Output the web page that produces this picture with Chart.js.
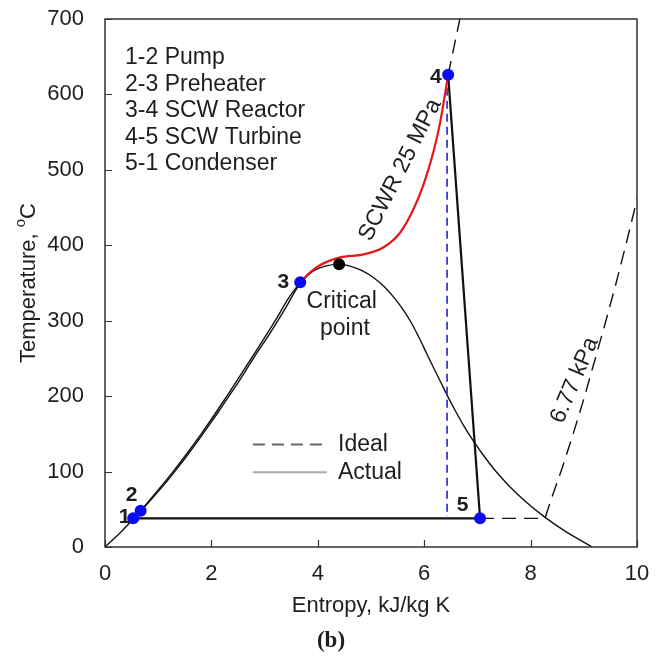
<!DOCTYPE html>
<html>
<head>
<meta charset="utf-8">
<script src="https://cdn.jsdelivr.net/npm/chart.js@4.4.1/dist/chart.umd.min.js"></script>
<style>
  html, body { margin: 0; padding: 0; background: #fff; }
  #wrap { width: 662px; height: 656px; }
</style>
</head>
<body>
<div id="wrap"><canvas id="ts-chart" width="662" height="656"></canvas></div>
<script>
// saturation dome (liquid side then vapour side), entropy kJ/kg K vs temperature C
const domeS = [0, 0.30, 0.57, 0.83, 1.08, 1.31, 1.53, 1.74, 1.94, 2.14, 2.33, 2.52, 2.70, 2.88, 3.07, 3.25,
  3.42, 3.58, 3.70, 3.84, 4.00, 4.18, 4.40, 4.62, 4.84, 5.05, 5.25, 5.43, 5.60, 5.76, 5.90, 6.03, 6.16,
  6.30, 6.44, 6.59, 6.75, 6.93, 7.13, 7.35, 7.61, 7.91, 8.26, 8.67, 9.16];
const domeT = [0, 20, 40, 60, 80, 100, 120, 140, 160, 180, 200, 220, 240, 260, 280, 300,
  320, 340, 352, 362, 369, 373, 375, 372, 366, 357, 345, 331, 315, 297, 278, 259, 240,
  220, 200, 180, 160, 140, 120, 100, 80, 60, 40, 20, 0];

// 2-3 preheater
const preheatS = [0.67, 1.28, 1.81, 2.29, 2.75, 3.20, 3.45, 3.67];
const preheatT = [48, 100, 150, 200, 250, 300, 330, 351];

// 3-4 SCW reactor, 25 MPa
const reactorS = [3.67, 3.82, 3.98, 4.20, 4.42, 4.86, 5.23, 5.55, 5.80, 5.98, 6.17, 6.30, 6.45];
const reactorT = [351, 362, 371, 379, 384, 388, 397, 417, 448, 479, 523, 563, 626];

// 25 MPa isobar beyond point 4
const hpExtS = [6.45, 6.67];
const hpExtT = [626, 700];

// 4-5 turbine, actual and ideal
const turbineS = [6.45, 7.05];
const turbineT = [626, 38];
const idealTurbS = [6.43, 6.43];
const idealTurbT = [626, 38];

// 5-1 condenser
const condS = [0.53, 7.05];
const condT = [38, 38];

// 6.77 kPa isobar (dashed)
const lowPS = [7.05, 8.27, 8.40, 8.60, 8.80, 9.00, 9.20, 9.40, 9.60, 9.80, 10.0];
const lowPT = [38, 38, 66, 106, 150, 196, 246, 296, 348, 403, 461];

// state points 1..5 and the critical point
const stateNames = ['1', '2', '3', '4', '5'];
const stateS = [0.53, 0.67, 3.67, 6.45, 7.05];
const stateT = [38, 48, 351, 626, 38];
const critS = [4.40];
const critT = [375];

const processNames = ['1-2 Pump', '2-3 Preheater', '3-4 SCW Reactor', '4-5 SCW Turbine', '5-1 Condenser'];

const FONT = "'Liberation Sans', Arial, sans-serif";
const TXT = '#1e1e1e';

const pts = (xs, ys) => xs.map((x, i) => ({ x, y: ys[i] }));

function lineSet(label, xs, ys, color, width, extra) {
  return Object.assign({
    label, data: pts(xs, ys), borderColor: color, borderWidth: width,
    pointRadius: 0, fill: false, tension: 0
  }, extra || {});
}

// labels placed in data units
const notes = [
  { text: '1', s: 0.37, T: 40, bold: true },
  { text: '2', s: 0.50, T: 69, bold: true },
  { text: '3', s: 3.35, T: 351, bold: true },
  { text: '4', s: 6.22, T: 623, bold: true },
  { text: '5', s: 6.72, T: 56, bold: true },
  { text: 'Critical', s: 4.45, T: 325 },
  { text: 'point', s: 4.51, T: 290 },
  { text: 'SCWR 25 MPa', s: 5.55, T: 500, rot: -63 },
  { text: '6.77 kPa', s: 8.83, T: 221, rot: -67 },
];
const legendRows = [
  { text: 'Ideal', T: 136, dash: [12, 7], color: '#666' },
  { text: 'Actual', T: 99, dash: [], color: '#aaa' },
];

const annotate = {
  id: 'annotate',
  afterDatasetsDraw(chart) {
    const { ctx, chartArea: a, scales: { x, y } } = chart;
    ctx.save();

    // frame and inward ticks
    ctx.strokeStyle = '#333';
    ctx.lineWidth = 1.5;
    ctx.setLineDash([]);
    ctx.strokeRect(a.left, a.top, a.right - a.left, a.bottom - a.top);
    ctx.beginPath();
    x.ticks.forEach((t) => {
      const px = Math.round(x.getPixelForValue(t.value)) + 0.5;
      ctx.moveTo(px, a.bottom); ctx.lineTo(px, a.bottom - 7);
    });
    y.ticks.forEach((t) => {
      const py = Math.round(y.getPixelForValue(t.value)) + 0.5;
      ctx.moveTo(a.left, py); ctx.lineTo(a.left + 7, py);
    });
    ctx.lineWidth = 1.2;
    ctx.stroke();

    ctx.fillStyle = TXT;
    ctx.textAlign = 'center';
    ctx.textBaseline = 'middle';
    notes.forEach((n) => {
      ctx.font = (n.bold ? 'bold 21px ' : '23px ') + FONT;
      ctx.save();
      ctx.translate(x.getPixelForValue(n.s), y.getPixelForValue(n.T));
      if (n.rot) ctx.rotate(n.rot * Math.PI / 180);
      ctx.fillText(n.text, 0, 0);
      ctx.restore();
    });

    // process list, top left
    ctx.textAlign = 'left';
    ctx.font = '23px ' + FONT;
    processNames.forEach((p, i) => ctx.fillText(p, a.left + 20, a.top + 39 + i * 26.5));

    // ideal / actual key
    legendRows.forEach((r) => {
      const py = y.getPixelForValue(r.T);
      ctx.beginPath();
      ctx.setLineDash(r.dash);
      ctx.strokeStyle = r.color;
      ctx.lineWidth = 2;
      ctx.moveTo(x.getPixelForValue(2.78), py);
      ctx.lineTo(x.getPixelForValue(4.17), py);
      ctx.stroke();
      ctx.fillText(r.text, x.getPixelForValue(4.38), py);
    });
    ctx.setLineDash([]);
    ctx.restore();
  },
  afterDraw(chart) {
    const { ctx, chartArea: a } = chart;
    ctx.save();
    ctx.fillStyle = TXT;
    ctx.textBaseline = 'middle';
    ctx.textAlign = 'center';
    ctx.font = '22px ' + FONT;
    ctx.fillText('Entropy, kJ/kg K', (a.left + a.right) / 2, 606);

    // y title with raised "o"
    ctx.save();
    ctx.translate(29, (a.top + a.bottom) / 2);
    ctx.rotate(-Math.PI / 2);
    const main = 'Temperature, ';
    const sup = 'o';
    const w1 = ctx.measureText(main).width;
    const wC = ctx.measureText('C').width;
    ctx.font = '15px ' + FONT;
    const w2 = ctx.measureText(sup).width;
    const start = -(w1 + w2 + wC) / 2;
    ctx.textAlign = 'left';
    ctx.fillText(sup, start + w1, -8);
    ctx.font = '22px ' + FONT;
    ctx.fillText(main, start, 0);
    ctx.fillText('C', start + w1 + w2, 0);
    ctx.restore();

    ctx.font = "bold 23px 'Liberation Serif', 'Times New Roman', serif";
    ctx.fillText('(b)', (a.left + a.right) / 2 - 40, 641);
    ctx.restore();
  }
};

new Chart(document.getElementById('ts-chart'), {
  type: 'line',
  data: {
    datasets: [
      lineSet('State points', stateS, stateT, '#0000ff', 0,
        { showLine: false, pointRadius: 6, pointBackgroundColor: '#0a0af5', pointBorderWidth: 0, order: 0 }),
      lineSet('Critical point', critS, critT, '#000', 0,
        { showLine: false, pointRadius: 6, pointBackgroundColor: '#000', pointBorderWidth: 0, order: 1 }),
      lineSet('Saturation', domeS, domeT, '#111', 1.4, { cubicInterpolationMode: 'monotone', order: 5 }),
      lineSet('Preheater', preheatS, preheatT, '#111', 1.4, { cubicInterpolationMode: 'monotone', order: 4 }),
      lineSet('Reactor', reactorS, reactorT, '#e8161b', 2.2, { cubicInterpolationMode: 'monotone', order: 3 }),
      lineSet('25 MPa', hpExtS, hpExtT, '#111', 1.4, { borderDash: [14, 8], order: 4 }),
      lineSet('Turbine', turbineS, turbineT, '#111', 2.2, { order: 3 }),
      lineSet('Ideal turbine', idealTurbS, idealTurbT, '#3a3ad8', 1.8, { borderDash: [8, 5], order: 3 }),
      lineSet('Condenser', condS, condT, '#111', 2.4, { order: 3 }),
      lineSet('6.77 kPa', lowPS, lowPT, '#111', 1.4, { borderDash: [14, 8], order: 4 }),
    ]
  },
  options: {
    responsive: false,
    animation: false,
    devicePixelRatio: 1,
    layout: { padding: { top: 19, right: 25, left: 0, bottom: 0 } },
    plugins: { legend: { display: false }, tooltip: { enabled: false } },
    scales: {
      x: {
        type: 'linear', min: 0, max: 10,
        ticks: { stepSize: 2, padding: 14, color: TXT, font: { family: FONT, size: 22 } },
        grid: { display: false, drawTicks: false },
        border: { display: false },
        afterFit: (s) => { s.height = 109; s.paddingRight = 0; s.paddingLeft = 0; }
      },
      y: {
        type: 'linear', min: 0, max: 700,
        ticks: { stepSize: 100, padding: 21, color: TXT, font: { family: FONT, size: 22 } },
        grid: { display: false, drawTicks: false },
        border: { display: false },
        afterFit: (s) => { s.width = 105; s.paddingTop = 0; s.paddingBottom = 0; }
      }
    }
  },
  plugins: [annotate]
});
</script>
</body>
</html>
